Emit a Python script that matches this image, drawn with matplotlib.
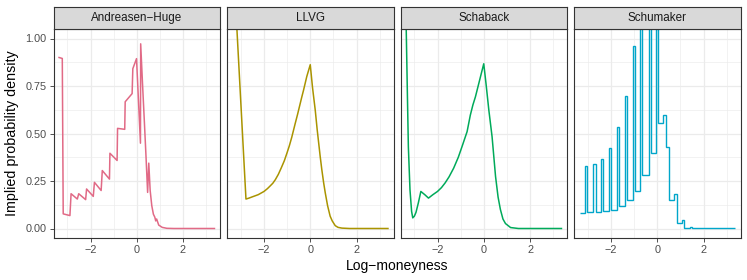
import matplotlib
matplotlib.use("Agg")
import matplotlib.pyplot as plt
import numpy as np

plt.rcParams['font.family'] = ['Liberation Sans', 'DejaVu Sans']

methods = ['Andreasen\u2212Huge', 'LLVG', 'Schaback', 'Schumaker']
colors = ['#E16A86', '#AA9400', '#00AA5A', '#00A6CA']

ah_x = [-3.36, -3.22, -3.18, -2.89, -2.84, -2.57, -2.51, -2.21, -2.17, -1.88,
        -1.83, -1.54, -1.49, -1.18, -1.16, -0.85, -0.83, -0.52, -0.50, -0.20,
        -0.17, -0.01, 0.16, 0.17, 0.25, 0.33, 0.40, 0.47, 0.52, 0.58,
        0.65, 0.72, 0.78, 0.82, 0.86, 0.95, 1.1, 1.3, 1.6, 3.36]
ah_y = [0.90, 0.895, 0.077, 0.068, 0.183, 0.155, 0.183, 0.152, 0.208, 0.169,
        0.243, 0.20, 0.305, 0.26, 0.396, 0.358, 0.527, 0.522, 0.667, 0.71,
        0.841, 0.894, 0.449, 0.972, 0.76, 0.56, 0.38, 0.19, 0.344, 0.20,
        0.12, 0.075, 0.06, 0.04, 0.05, 0.018, 0.006, 0.001, 0.0, 0.0]

llvg_x = [-3.36, -2.78, -2.65, -2.52, -2.25, -2.0, -1.85, -1.75, -1.62, -1.51,
          -1.38, -1.25, -1.12, -1.01, -0.9, -0.8, -0.65, -0.55, -0.45, -0.37,
          -0.29, -0.15, 0.0, 0.1, 0.216, 0.3, 0.43, 0.5, 0.58, 0.65,
          0.75, 0.86, 0.95, 1.08, 1.2, 1.37, 1.7, 3.36]
llvg_y = [1.48, 0.155, 0.16, 0.166, 0.178, 0.195, 0.21, 0.222, 0.238, 0.257,
          0.285, 0.32, 0.357, 0.396, 0.437, 0.48, 0.553, 0.60, 0.65, 0.69,
          0.728, 0.80, 0.862, 0.74, 0.623, 0.52, 0.379, 0.31, 0.24, 0.187,
          0.12, 0.065, 0.04, 0.015, 0.006, 0.002, 0.0, 0.0]

schaback_x = [-3.36, -3.30, -3.26, -3.19, -3.12, -3.07, -3.0, -2.93, -2.83, -2.72,
              -2.55, -2.39, -2.2, -2.0, -1.83, -1.67, -1.5, -1.30, -1.1, -0.94,
              -0.72, -0.58, -0.47, -0.36, -0.18, 0.0, 0.1, 0.22, 0.36, 0.51,
              0.62, 0.72, 0.83, 0.94, 1.16, 1.5, 3.36]
schaback_y = [1.10, 0.693, 0.43, 0.204, 0.09, 0.056, 0.065, 0.085, 0.134, 0.195,
              0.178, 0.16, 0.178, 0.195, 0.215, 0.24, 0.272, 0.318, 0.375, 0.431,
              0.51, 0.597, 0.65, 0.693, 0.78, 0.867, 0.76, 0.623, 0.483, 0.274,
              0.165, 0.10, 0.05, 0.026, 0.005, 0.0, 0.0]

schumaker_edges = [-3.36, -3.12, -3.02, -2.77, -2.67, -2.45, -2.35, -2.10, -2.00, -1.75,
                   -1.66, -1.40, -1.31, -1.05, -0.96, -0.73, -0.64, -0.35, -0.28, -0.06,
                   0.04, 0.23, 0.38, 0.51, 0.73, 0.84, 1.06, 1.14, 1.43, 1.50, 3.36]
schumaker_vals = [0.082, 0.33, 0.085, 0.34, 0.088, 0.366, 0.092, 0.426, 0.10, 0.532,
                  0.117, 0.70, 0.148, 0.963, 0.197, 1.4, 0.279, 1.7, 0.40, 1.9,
                  0.557, 0.597, 0.428, 0.148, 0.182, 0.03, 0.047, 0.004, 0.006, 0.001]

W, H = 747, 280
fig = plt.figure(figsize=(W / 100, H / 100), dpi=100)

lefts = [53.5, 227.0, 400.5, 574.0]
pw = 166.5
top, bottom = 29, 238
strip_top = 7

for i, name in enumerate(methods):
    ax = fig.add_axes([lefts[i] / W, (H - bottom) / H, pw / W, (bottom - top) / H])
    ax.set_xlim(-3.6, 3.6)
    ax.set_ylim(-0.05, 1.05)
    ax.set_xticks([-2, 0, 2])
    ax.set_xticks([-3, -1, 1, 3], minor=True)
    ax.set_yticks([0, 0.25, 0.5, 0.75, 1.0])
    ax.set_yticks([0.125, 0.375, 0.625, 0.875], minor=True)
    ax.grid(True, which='major', color='#EBEBEB', lw=0.9)
    ax.grid(True, which='minor', color='#EBEBEB', lw=0.45)
    ax.set_axisbelow(True)
    for s in ax.spines.values():
        s.set_color('#333333')
        s.set_linewidth(0.8)
    ax.tick_params(which='major', length=3, width=0.6, color='#333333',
                   labelsize=7.8, labelcolor='#4D4D4D', pad=2)
    ax.tick_params(which='minor', length=0)
    if i == 0:
        ax.set_yticklabels(['0.00', '0.25', '0.50', '0.75', '1.00'])
    else:
        ax.tick_params(axis='y', which='major', length=0, labelleft=False)

    if i == 0:
        ax.plot(ah_x, ah_y, color=colors[i], lw=1.1)
    elif i == 1:
        ax.plot(llvg_x, llvg_y, color=colors[i], lw=1.1)
    elif i == 2:
        ax.plot(schaback_x, schaback_y, color=colors[i], lw=1.1)
    else:
        ax.stairs(schumaker_vals, schumaker_edges, baseline=None, color=colors[i], lw=1.0)

    sax = fig.add_axes([lefts[i] / W, (H - top) / H, pw / W, (top - strip_top) / H])
    sax.set_facecolor('#D9D9D9')
    sax.set_xticks([])
    sax.set_yticks([])
    for s in sax.spines.values():
        s.set_color('#333333')
        s.set_linewidth(0.8)
    sax.text(0.5, 0.5, name, ha='center', va='center', fontsize=8.4,
             color='#1A1A1A', transform=sax.transAxes)

fig.text((lefts[0] + lefts[3] + pw) / 2 / W, (H - 266) / H, 'Log\u2212moneyness',
         ha='center', va='center', fontsize=10)
fig.text(12 / W, (H - (top + bottom) / 2) / H, 'Implied probability density',
         ha='center', va='center', rotation=90, fontsize=10.3)

fig.savefig('out.png', dpi=100)
